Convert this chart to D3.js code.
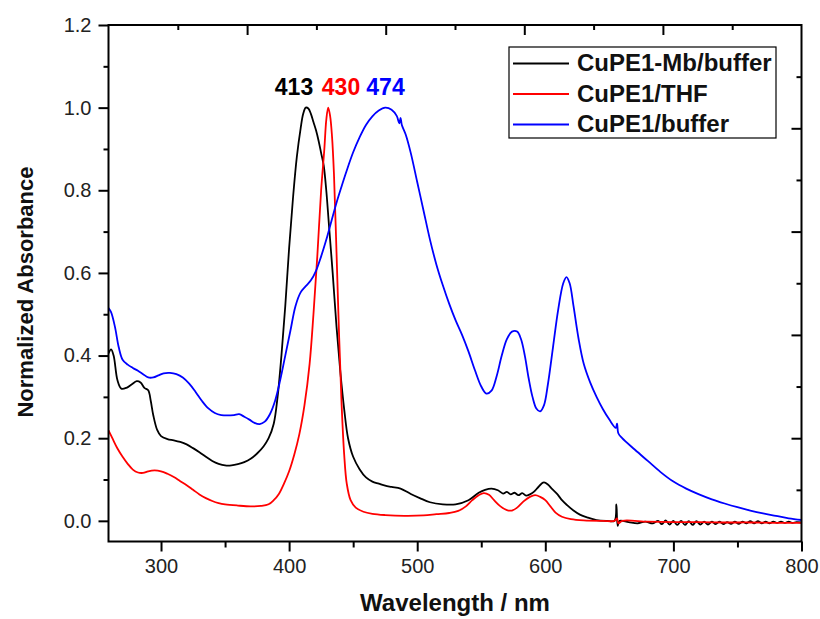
<!DOCTYPE html>
<html>
<head>
<meta charset="utf-8">
<script src="https://cdn.jsdelivr.net/npm/d3@7"></script>
<style>
  body { margin: 0; background: #fff; }
  svg { display: block; font-family: "Liberation Sans", Arial, sans-serif; }
</style>
</head>
<body>
<div id="chart"></div>
<script>
// series: CuPE1-Mb/buffer (black)
const mbNm = [259, 261, 263, 266, 269, 273, 277, 281, 284, 287, 290, 292, 294, 297, 300, 305, 310, 315, 320, 325,
  330, 335, 340, 345, 350, 355, 360, 365, 370, 375, 380, 384, 388, 391, 394, 397, 400, 403, 406, 409,
  411, 413, 415, 417, 419, 421, 423, 425, 427, 429, 431, 434, 437, 440, 443, 446, 450, 455, 460, 465,
  470, 475, 480, 487, 495, 502, 510, 520, 530, 540, 548, 553, 558, 563, 567, 570, 573, 576, 579, 582,
  585, 588, 591, 594, 597, 599, 602, 605, 609, 613, 617, 622, 627, 633, 640, 648, 654, 655.5, 656.5, 658,
  665, 672, 678, 684, 688, 691, 694, 697, 700, 703, 706, 709, 712, 715, 718, 721, 724, 727, 730, 733,
  736, 739, 742, 745, 748, 751, 754, 757, 760, 763, 766, 769, 772, 775, 778, 781, 784, 787, 790, 793,
  796, 800];
const mbAbs = [0.405, 0.415, 0.40, 0.34, 0.32, 0.322, 0.33, 0.338, 0.335, 0.322, 0.316, 0.29, 0.255, 0.22, 0.205, 0.198, 0.195, 0.191, 0.185, 0.176,
  0.166, 0.155, 0.145, 0.138, 0.134, 0.134, 0.137, 0.142, 0.150, 0.163, 0.18, 0.2, 0.235, 0.3, 0.4, 0.52, 0.66, 0.78, 0.88, 0.95,
  0.985, 1.0, 0.998, 0.985, 0.965, 0.945, 0.92, 0.89, 0.86, 0.8, 0.72, 0.6, 0.47, 0.36, 0.27, 0.2, 0.155, 0.125, 0.105, 0.095,
  0.09, 0.085, 0.082, 0.078, 0.065, 0.055, 0.045, 0.04, 0.04, 0.05, 0.068, 0.075, 0.078, 0.074, 0.066, 0.07, 0.064, 0.068, 0.062, 0.067,
  0.061, 0.064, 0.07, 0.08, 0.09, 0.093, 0.088, 0.078, 0.066, 0.05, 0.038, 0.025, 0.015, 0.008, 0.002, 0.0, 0.0, 0.04, -0.012, 0.0,
  -0.003, -0.006, -0.002, -0.006, 0.0, -0.008, 0.001, -0.009, 0.0, -0.01, 0.0, -0.01, -0.001, -0.01, -0.001, -0.009, -0.002, -0.009, -0.002, -0.008,
  -0.002, -0.008, -0.003, -0.007, -0.002, -0.007, -0.002, -0.006, -0.001, -0.006, -0.001, -0.006, -0.002, -0.006, -0.002, -0.005, -0.002, -0.005, -0.002, -0.005,
  -0.003, -0.004];

// series: CuPE1/THF (red)
const thfNm = [259, 262, 266, 270, 274, 278, 282, 286, 290, 295, 300, 305, 310, 315, 320, 325, 330, 335, 340, 345,
  350, 360, 370, 378, 384, 388, 392, 396, 400, 404, 408, 412, 416, 419, 422, 425, 427.5, 429, 430.5, 432,
  433.5, 435, 437, 439, 441, 443, 445, 448, 452, 458, 465, 475, 490, 505, 515, 525, 532, 538, 543, 548,
  552, 556, 560, 565, 570, 574, 578, 583, 588, 592, 596, 600, 604, 608, 613, 620, 630, 645, 654, 656,
  657, 660, 680, 700, 720, 740, 760, 780, 800];
const thfAbs = [0.219, 0.2, 0.175, 0.155, 0.138, 0.124, 0.117, 0.116, 0.12, 0.122, 0.12, 0.114, 0.106, 0.096, 0.086, 0.075, 0.064, 0.055, 0.048, 0.043,
  0.04, 0.037, 0.035, 0.036, 0.04, 0.05, 0.065, 0.09, 0.12, 0.16, 0.21, 0.28, 0.38, 0.5, 0.64, 0.8, 0.9, 0.97, 1.0, 0.98,
  0.93, 0.84, 0.65, 0.45, 0.28, 0.16, 0.09, 0.05, 0.032, 0.022, 0.017, 0.014, 0.012, 0.013, 0.016, 0.019, 0.024, 0.035, 0.05, 0.062,
  0.067, 0.063, 0.05, 0.035, 0.026, 0.025, 0.032, 0.047, 0.058, 0.062, 0.058, 0.05, 0.035, 0.02, 0.01, 0.004, 0.001, 0.0, 0.0, 0.006,
  -0.006, 0.0, -0.002, -0.003, -0.003, -0.004, -0.004, -0.005, -0.005];

// series: CuPE1/buffer (blue)
const bufNm = [259, 261, 264, 267, 270, 274, 278, 282, 286, 290, 294, 298, 302, 307, 312, 317, 322, 327, 332, 337,
  342, 347, 352, 357, 361, 365, 369, 373, 377, 381, 385, 389, 393, 397, 401, 405, 409, 413, 417, 421,
  425, 429, 433, 437, 441, 445, 450, 455, 460, 465, 470, 475, 480, 484, 486, 487, 488, 491, 495, 500,
  505, 510, 515, 520, 525, 530, 535, 540, 545, 550, 554, 558, 562, 566, 570, 574, 578, 581, 584, 587,
  590, 593, 596, 599, 602, 606, 610, 614, 616.5, 619, 622, 626, 630, 635, 640, 645, 650, 655, 656, 657,
  660, 670, 680, 690, 700, 710, 720, 730, 740, 750, 760, 770, 780, 790, 800];
const bufAbs = [0.515, 0.505, 0.47, 0.42, 0.39, 0.378, 0.37, 0.363, 0.355, 0.347, 0.347, 0.352, 0.357, 0.358, 0.355, 0.347, 0.332, 0.312, 0.29, 0.272,
  0.261, 0.256, 0.255, 0.256, 0.258, 0.252, 0.245, 0.237, 0.234, 0.24, 0.258, 0.29, 0.34, 0.4, 0.46, 0.52, 0.553, 0.568, 0.582, 0.605,
  0.64, 0.68, 0.725, 0.77, 0.81, 0.848, 0.892, 0.928, 0.958, 0.979, 0.993, 1.0, 0.995, 0.98, 0.962, 0.975, 0.958, 0.935, 0.89, 0.82,
  0.75, 0.68, 0.62, 0.57, 0.525, 0.485, 0.45, 0.41, 0.365, 0.325, 0.308, 0.315, 0.35, 0.4, 0.44, 0.458, 0.458, 0.44, 0.4, 0.345,
  0.3, 0.272, 0.265, 0.28, 0.33, 0.42, 0.51, 0.575, 0.59, 0.575, 0.52, 0.44, 0.38, 0.335, 0.3, 0.27, 0.245, 0.225, 0.235, 0.212,
  0.2, 0.172, 0.145, 0.118, 0.095, 0.078, 0.064, 0.052, 0.042, 0.033, 0.025, 0.018, 0.012, 0.006, 0.002];

const seriesNames = ["CuPE1-Mb/buffer", "CuPE1/THF", "CuPE1/buffer"];
const seriesColors = ["#000000", "#ff0000", "#0000ff"];
const peakLabels = ["413", "430", "474"];

const xTicks = [300, 400, 500, 600, 700, 800];
const xMinorTicks = [350, 450, 550, 650, 750];
const yTicks = [0.0, 0.2, 0.4, 0.6, 0.8, 1.0, 1.2];
const yMinorTicks = [0.1, 0.3, 0.5, 0.7, 0.9, 1.1];

const width = 820, height = 619;
const plotLeft = 108.5, plotRight = 801.5, plotTop = 25, plotBottom = 541.5;

const svg = d3.select("#chart").append("svg")
  .attr("width", width)
  .attr("height", height);

const x = d3.scaleLinear().domain([259, 800]).range([plotLeft, plotRight]);
const y = d3.scaleLinear().domain([-0.05, 1.2]).range([plotBottom, plotTop]);
// top / right axes carry their own 5-division ticks
const xTop = d3.scaleLinear().domain([0, 5]).range([plotLeft, plotRight]);
const yRight = d3.scaleLinear().domain([0, 5]).range([plotBottom, plotTop]);

svg.append("defs").append("clipPath").attr("id", "plot")
  .append("rect")
  .attr("x", plotLeft).attr("y", plotTop)
  .attr("width", plotRight - plotLeft).attr("height", plotBottom - plotTop);

// data lines
const line = d3.line()
  .x(d => x(d[0]))
  .y(d => y(d[1]))
  .curve(d3.curveCatmullRom);

const series = [
  d3.zip(mbNm, mbAbs),
  d3.zip(thfNm, thfAbs),
  d3.zip(bufNm, bufAbs)
];

svg.append("g").attr("clip-path", "url(#plot)")
  .selectAll("path")
  .data(series)
  .enter()
  .append("path")
  .attr("d", line)
  .attr("fill", "none")
  .attr("stroke", (d, i) => seriesColors[i])
  .attr("stroke-width", 1.8)
  .attr("stroke-linejoin", "round");

// axes
function styleAxis(g) {
  g.select(".domain").remove();
  g.selectAll(".tick line").attr("stroke", "#000").attr("stroke-width", 2);
  g.selectAll(".tick text").attr("fill", "#222").attr("font-size", 20);
}

svg.append("g")
  .attr("transform", `translate(0,${plotBottom})`)
  .call(d3.axisBottom(x).tickValues(xTicks).tickSize(10).tickPadding(7).tickFormat(d3.format("d")))
  .call(styleAxis);
svg.append("g")
  .attr("transform", `translate(0,${plotBottom})`)
  .call(d3.axisBottom(x).tickValues(xMinorTicks).tickSize(6).tickFormat(""))
  .call(styleAxis);

svg.append("g")
  .attr("transform", `translate(${plotLeft},0)`)
  .call(d3.axisLeft(y).tickValues(yTicks).tickSize(10).tickPadding(7).tickFormat(d3.format(".1f")))
  .call(styleAxis);
svg.append("g")
  .attr("transform", `translate(${plotLeft},0)`)
  .call(d3.axisLeft(y).tickValues(yMinorTicks).tickSize(5).tickFormat(""))
  .call(styleAxis);

svg.append("g")
  .attr("transform", `translate(0,${plotTop})`)
  .call(d3.axisTop(xTop).tickValues([1, 2, 3, 4]).tickSize(-10).tickFormat(""))
  .call(styleAxis);
svg.append("g")
  .attr("transform", `translate(0,${plotTop})`)
  .call(d3.axisTop(xTop).tickValues([0.5, 1.5, 2.5, 3.5, 4.5]).tickSize(-5).tickFormat(""))
  .call(styleAxis);

svg.append("g")
  .attr("transform", `translate(${plotRight},0)`)
  .call(d3.axisRight(yRight).tickValues([1, 2, 3, 4]).tickSize(-10).tickFormat(""))
  .call(styleAxis);
svg.append("g")
  .attr("transform", `translate(${plotRight},0)`)
  .call(d3.axisRight(yRight).tickValues([0.5, 1.5, 2.5, 3.5, 4.5]).tickSize(-5).tickFormat(""))
  .call(styleAxis);

// frame
svg.append("rect")
  .attr("x", plotLeft).attr("y", plotTop)
  .attr("width", plotRight - plotLeft).attr("height", plotBottom - plotTop)
  .attr("fill", "none")
  .attr("stroke", "#000")
  .attr("stroke-width", 2);

// axis titles
svg.append("text")
  .attr("x", 455)
  .attr("y", 611)
  .attr("text-anchor", "middle")
  .attr("font-size", 24)
  .attr("font-weight", "bold")
  .attr("fill", "#111")
  .text("Wavelength / nm");

svg.append("text")
  .attr("transform", "translate(33,292) rotate(-90)")
  .attr("text-anchor", "middle")
  .attr("font-size", 22)
  .attr("font-weight", "bold")
  .attr("fill", "#111")
  .text("Normalized Absorbance");

// peak labels
const peakX = [294, 341, 385.5];
svg.selectAll(".peak")
  .data(peakLabels)
  .enter()
  .append("text")
  .attr("class", "peak")
  .attr("x", (d, i) => peakX[i])
  .attr("y", 95)
  .attr("text-anchor", "middle")
  .attr("font-size", 23)
  .attr("font-weight", "bold")
  .attr("fill", (d, i) => seriesColors[i])
  .text(d => d);

// legend
const legend = svg.append("g");
legend.append("rect")
  .attr("x", 509).attr("y", 47)
  .attr("width", 267).attr("height", 91)
  .attr("fill", "#fff")
  .attr("stroke", "#000")
  .attr("stroke-width", 1.2);

const rows = legend.selectAll(".row")
  .data(seriesNames)
  .enter()
  .append("g")
  .attr("class", "row")
  .attr("transform", (d, i) => `translate(0,${63.5 + i * 30.5})`);

rows.append("line")
  .attr("x1", 513).attr("x2", 569)
  .attr("stroke", (d, i) => seriesColors[i])
  .attr("stroke-width", 1.8);

rows.append("text")
  .attr("x", 577)
  .attr("y", 7.5)
  .attr("font-size", 24)
  .attr("font-weight", "bold")
  .attr("fill", "#111")
  .text(d => d);
</script>
</body>
</html>
